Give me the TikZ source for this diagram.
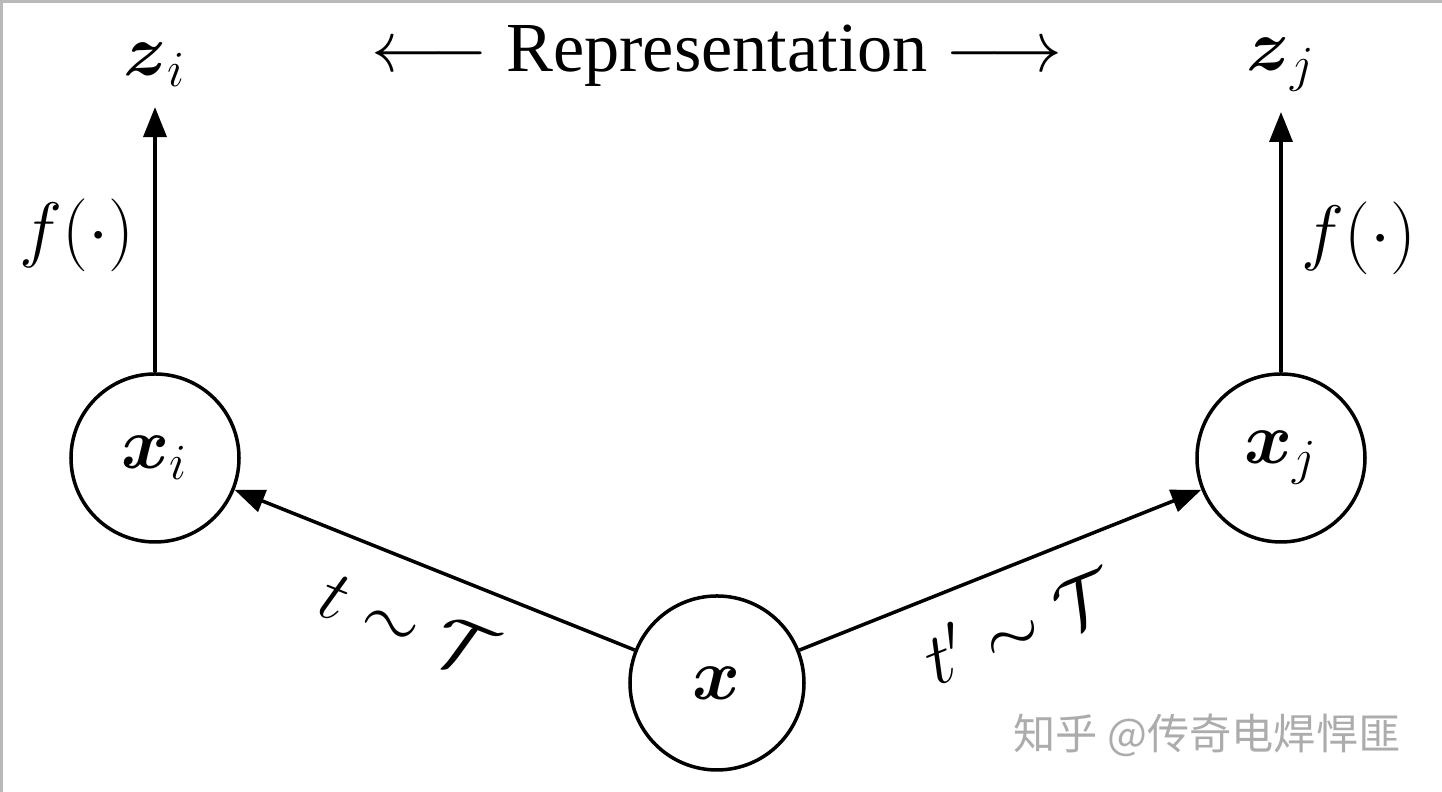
\documentclass[tikz,border=0pt]{standalone}
\usepackage{amsmath}
\usepackage{amssymb}
\usepackage{fontspec}
\setmainfont{Liberation Serif}
\newfontfamily\cjk{Noto Sans CJK SC}
\usetikzlibrary{arrows.meta, positioning}
\tikzset{
  circ/.style={circle, draw=black, line width=1pt, minimum size=1.68cm, inner sep=0pt, font=\fontsize{20}{24}\selectfont},
  lbl/.style={font=\fontsize{20}{24}\selectfont},
  arrow/.style={-{Triangle[length=3mm, width=2.3mm]}, line width=1pt}
}
\begin{document}
\begin{tikzpicture}[node distance=1cm, on grid]
  \useasboundingbox (0,0) rectangle (14.42,7.92);
  \draw[gray!55, line width=0.8pt] (0.015,0) -- (0.015,7.905) -- (14.42,7.905);
  \node[circ, minimum size=1.74cm] (x) at (7.17,1.09) {$\boldsymbol{x}$};
  \node[circ, above left=2.25cm and 5.62cm of x] (xi) {$\boldsymbol{x}_i$};
  \node[circ, above right=2.25cm and 5.64cm of x] (xj) {$\boldsymbol{x}_j$};
  \node[lbl, above=3.93cm of xi] (zi) {$\boldsymbol{z}_i$};
  \node[lbl, above=3.93cm of xj] (zj) {$\boldsymbol{z}_j$};
  \node[lbl, anchor=base] (rep) at (7.17,7.20) {$\longleftarrow$ Representation $\longrightarrow$};
  \draw[arrow] (x) -- node[sloped, below=0.22cm, pos=0.51, lbl] {$t\sim\mathcal{T}$} (xi);
  \draw[arrow] (x) -- node[sloped, below=0.17cm, pos=0.49, lbl] {$t'\sim\mathcal{T}$} (xj);
  \draw[arrow, shorten >=0.08cm] (xi) -- node[left=0.07cm, lbl] {$f(\cdot)$} (zi);
  \draw[arrow, shorten >=0.08cm] (xj) -- node[right=0.07cm, lbl] {$f(\cdot)$} (zj);
  \node[text=gray!65, font=\cjk\fontsize{12}{14}\selectfont] (mark) at (12.07,0.57) {知乎 @传奇电焊悍匪};
\end{tikzpicture}
\end{document}
